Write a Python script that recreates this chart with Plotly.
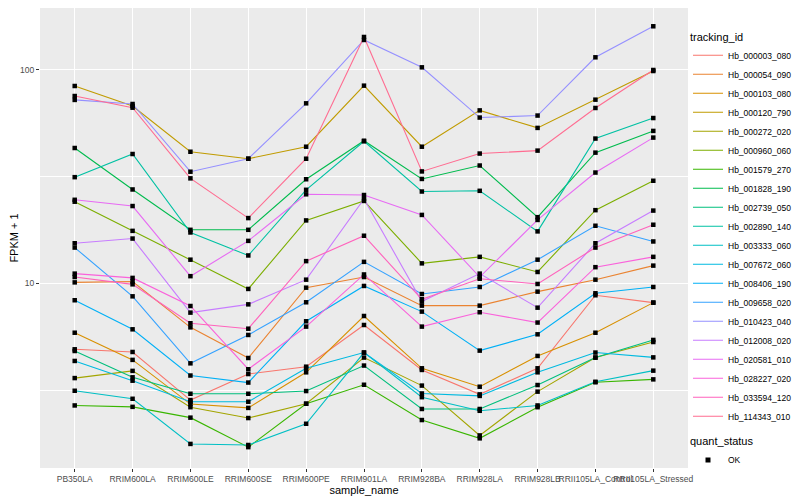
import plotly.graph_objects as go

samples = ["PB350LA", "RRIM600LA", "RRIM600LE", "RRIM600SE", "RRIM600PE", "RRIM901LA",
           "RRIM928BA", "RRIM928LA", "RRIM928LB", "RRII105LA_Control", "RRII105LA_Stressed"]

tracking_ids = ["Hb_000003_080", "Hb_000054_090", "Hb_000103_080", "Hb_000120_790",
                "Hb_000272_020", "Hb_000960_060", "Hb_001579_270", "Hb_001828_190",
                "Hb_002739_050", "Hb_002890_140", "Hb_003333_060", "Hb_007672_060",
                "Hb_008406_190", "Hb_009658_020", "Hb_010423_040", "Hb_012008_020",
                "Hb_020581_010", "Hb_028227_020", "Hb_033594_120", "Hb_114343_010"]

colors = ["#F8766D", "#EA8331", "#D89000", "#C09B00", "#A3A500", "#7CAE00", "#39B600",
          "#00BB4E", "#00BF7D", "#00C1A3", "#00BFC4", "#00BAE0", "#00B0F6", "#35A2FF",
          "#9590FF", "#C77CFF", "#E76BF3", "#FA62DB", "#FF62BC", "#FF6C91"]

# FPKM + 1 per sample (same order as samples)
Hb_000003_080 = [4.91, 4.77, 2.84, 3.76, 4.07, 6.38, 3.93, 3.02, 4.00, 8.79, 8.12]
Hb_000054_090 = [10.1, 10.2, 6.22, 4.47, 9.54, 10.7, 7.86, 7.86, 9.14, 10.4, 12.1]
Hb_000103_080 = [5.87, 4.38, 2.72, 2.61, 3.83, 7.03, 4.00, 3.28, 4.57, 5.87, 8.12]
Hb_000120_790 = [83.9, 67.6, 41.3, 38.3, 43.6, 84.2, 43.6, 64.5, 53.4, 72.4, 98.6]
Hb_000272_020 = [3.60, 3.89, 2.63, 2.34, 2.73, 4.49, 3.32, 1.94, 3.11, 4.49, 5.31]
Hb_000960_060 = [24.1, 17.6, 12.9, 9.41, 19.7, 24.3, 12.4, 13.3, 11.3, 22.0, 30.2]
Hb_001579_270 = [2.68, 2.64, 2.35, 1.71, 2.73, 3.35, 2.29, 1.88, 2.63, 3.44, 3.55]
Hb_001828_190 = [43.0, 27.5, 17.8, 17.8, 30.7, 46.5, 30.8, 35.6, 20.4, 40.9, 51.7]
Hb_002739_050 = [4.82, 3.63, 3.04, 3.04, 3.13, 4.12, 2.58, 2.58, 3.34, 4.49, 5.43]
Hb_002890_140 = [31.4, 40.3, 17.3, 13.5, 27.4, 46.2, 26.9, 27.1, 17.5, 47.6, 59.4]
Hb_003333_060 = [3.14, 2.88, 1.77, 1.75, 2.20, 4.74, 2.93, 2.53, 2.68, 3.46, 3.90]
Hb_007672_060 = [4.33, 3.50, 2.79, 2.79, 4.00, 4.74, 3.05, 2.97, 3.83, 4.74, 4.50]
Hb_008406_190 = [8.33, 6.09, 3.70, 3.43, 6.64, 9.72, 7.37, 4.84, 5.77, 8.98, 9.61]
Hb_009658_020 = [14.7, 8.69, 4.22, 5.73, 8.15, 12.6, 8.91, 9.61, 12.9, 18.6, 15.7]
Hb_010423_040 = [72.2, 69.1, 33.3, 38.3, 69.6, 137.8, 102.6, 59.7, 61.0, 114.3, 159.7]
Hb_012008_020 = [15.4, 16.2, 7.29, 7.97, 10.4, 24.8, 8.21, 11.1, 7.69, 15.4, 21.9]
Hb_020581_010 = [24.6, 23.0, 10.8, 15.8, 26.1, 25.9, 20.9, 10.7, 19.8, 33.0, 48.1]
Hb_028227_020 = [11.1, 10.6, 7.83, 3.96, 6.27, 11.0, 6.27, 7.32, 6.55, 11.9, 13.3]
Hb_033594_120 = [10.7, 9.89, 6.50, 6.13, 12.7, 16.7, 8.42, 10.5, 9.93, 14.7, 18.8]
Hb_114343_010 = [75.3, 66.4, 31.0, 20.2, 38.3, 142.3, 33.4, 40.5, 41.8, 66.2, 99.7]

series = [Hb_000003_080, Hb_000054_090, Hb_000103_080, Hb_000120_790, Hb_000272_020,
          Hb_000960_060, Hb_001579_270, Hb_001828_190, Hb_002739_050, Hb_002890_140,
          Hb_003333_060, Hb_007672_060, Hb_008406_190, Hb_009658_020, Hb_010423_040,
          Hb_012008_020, Hb_020581_010, Hb_028227_020, Hb_033594_120, Hb_114343_010]

fig = go.Figure()
for name, vals, col in zip(tracking_ids, series, colors):
    fig.add_trace(go.Scatter(x=samples, y=vals, mode="lines", name=name,
                             line=dict(color=col, width=1.1), legend="legend"))
for name, vals in zip(tracking_ids, series):
    fig.add_trace(go.Scatter(x=samples, y=vals, mode="markers", showlegend=False,
                             marker=dict(color="black", symbol="square", size=4.5,
                                         line=dict(width=0))))
fig.add_trace(go.Scatter(x=[None], y=[None], mode="markers", name="OK",
                         marker=dict(color="black", symbol="square", size=5),
                         legend="legend2"))

# The page body adds an 8px margin, so the figure is 8px smaller than the window
fig.update_layout(
    width=792, height=492,
    margin=dict(l=32, r=112, t=0, b=32, autoexpand=False),
    paper_bgcolor="white", plot_bgcolor="#EBEBEB",
    font=dict(family="Liberation Sans, Arial, sans-serif", size=9, color="black"),
    legend=dict(title=dict(text="tracking_id", font=dict(size=11)),
                x=1.0, xanchor="left", y=0.96, yanchor="top",
                font=dict(size=8.5), bgcolor="rgba(0,0,0,0)", itemwidth=30,
                tracegroupgap=0),
    legend2=dict(title=dict(text="quant_status", font=dict(size=11)),
                 x=1.0, xanchor="left", y=0.08, yanchor="top",
                 font=dict(size=8.5), bgcolor="rgba(0,0,0,0)", itemwidth=30),
)
fig.update_xaxes(
    type="category", categoryorder="array", categoryarray=samples,
    tickmode="array", tickvals=samples, ticktext=samples, tickangle=0,
    range=[-0.6, 10.6], showgrid=True, gridcolor="white", gridwidth=1.1,
    zeroline=False, ticks="outside", ticklen=3, tickcolor="#333333",
    tickfont=dict(size=8.5, color="#4D4D4D"),
    title=dict(text="sample_name", font=dict(size=11), standoff=1),
    showline=False, automargin=False,
)
fig.update_yaxes(
    type="log", range=[0.1353, 2.2889],
    tickmode="array", tickvals=[1, 10, 100], ticktext=["1", "10", "100"],
    showgrid=True, gridcolor="white", gridwidth=1.1,
    minor=dict(tickmode="array", tickvals=[10 ** 0.5, 10 ** 1.5], showgrid=True,
               gridcolor="white", gridwidth=0.5, ticks=""),
    zeroline=False, ticks="outside", ticklen=3, tickcolor="#333333",
    tickfont=dict(size=8.5, color="#4D4D4D"),
    title=dict(text="FPKM + 1", font=dict(size=11), standoff=4),
    showline=False, automargin=False,
)
fig.write_html("out.html")
